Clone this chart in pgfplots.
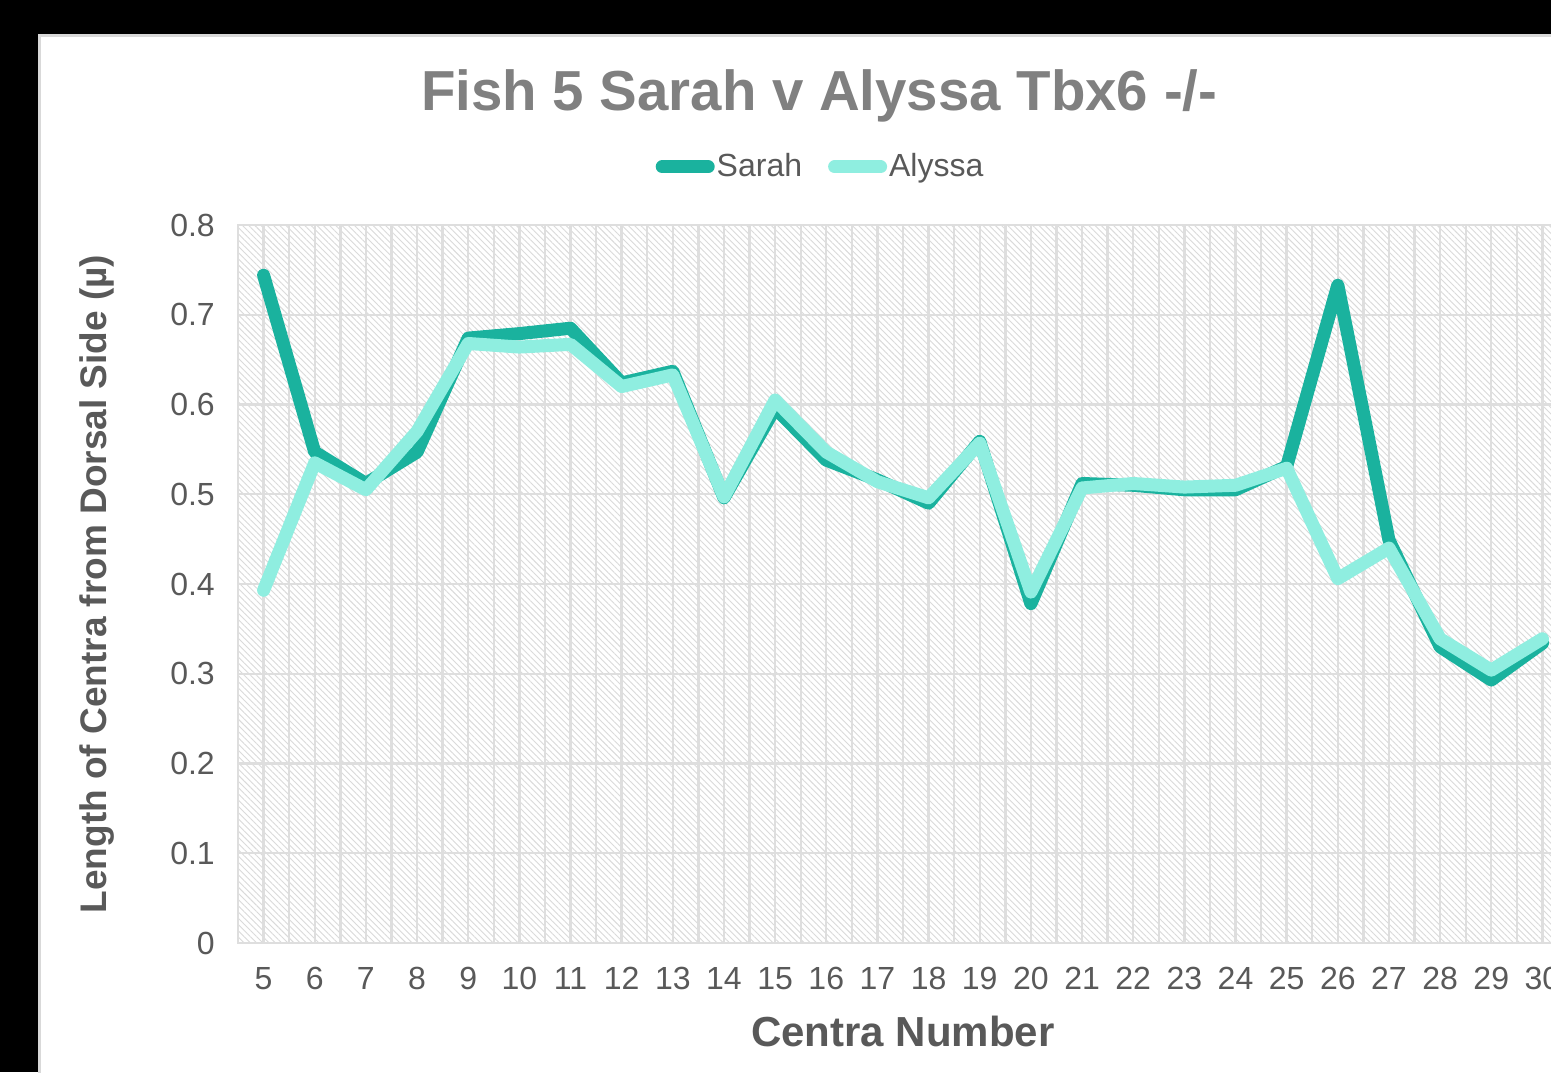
\documentclass[border=0pt]{standalone}
\usepackage{fontspec}
\setmainfont{Liberation Sans}
\usepackage{pgfplots}
\usepackage{pgfplotstable}
\pgfplotsset{compat=1.18}
\usetikzlibrary{patterns.meta}

\definecolor{sarah}{RGB}{26,178,158}
\definecolor{alyssa}{RGB}{143,238,224}
\definecolor{txtgray}{RGB}{89,89,89}
\definecolor{titlegray}{RGB}{128,128,128}
\definecolor{gridgray}{RGB}{222,222,222}
\definecolor{hatchgray}{RGB}{218,218,218}
\definecolor{panelgray}{RGB}{217,217,217}

% centra number, Sarah, Alyssa
\pgfplotstableread{
n  sarah  alyssa
5  0.744  0.393
6  0.547  0.535
7  0.512  0.505
8  0.547  0.570
9  0.674  0.668
10 0.679  0.664
11 0.685  0.667
12 0.624  0.620
13 0.637  0.633
14 0.496  0.497
15 0.596  0.605
16 0.538  0.547
17 0.516  0.514
18 0.490  0.496
19 0.559  0.557
20 0.378  0.391
21 0.512  0.507
22 0.510  0.512
23 0.505  0.508
24 0.505  0.510
25 0.531  0.529
26 0.733  0.406
27 0.449  0.440
28 0.330  0.339
29 0.293  0.304
30 0.334  0.339
}\fishdata

\begin{document}
\begin{tikzpicture}[x=0.5pt,y=0.5pt]
\useasboundingbox (0,0) rectangle (1551,1072);
\clip (0,0) rectangle (1551,1072);
\fill[black] (0,0) rectangle (1551,1072);
\filldraw[fill=white, draw=panelgray, line width=1.5pt] (39,-20) rectangle (1600,1036);
\begin{axis}[
  at={(119pt,64.5pt)}, anchor=south west,
  scale only axis, width=665pt, height=359pt,
  xmin=4.5, xmax=30.5, ymin=0, ymax=0.8,
  xtick={5,...,30},
  minor x tick num=1,
  ytick={0,0.1,0.2,0.3,0.4,0.5,0.6,0.7,0.8},
  grid=both,
  major grid style={draw=gridgray, line width=1.2pt},
  minor grid style={draw=gridgray, line width=1.2pt},
  major tick length=0pt, minor tick length=0pt,
  axis line style={draw=gridgray, line width=1.2pt},
  axis background/.style={pattern={Lines[angle=-45,distance=2.2pt,line width=0.45pt]}, pattern color=hatchgray},
  /pgf/number format/assume math mode=true,
  ticklabel style={font=\fontsize{16}{19}\selectfont, text=txtgray},
  yticklabel style={/pgf/number format/fixed, /pgf/number format/precision=1, xshift=-8.1pt},
  xticklabel style={yshift=-8.6pt},
  title={Fish 5 Sarah v Alyssa Tbx6 -/-},
  title style={at={(axis description cs:0.437,1.163)}, anchor=center,
    font=\fontsize{28.2}{33}\selectfont\bfseries, text=titlegray},
  xlabel={Centra Number},
  xlabel style={at={(axis description cs:0.5,-0.1226)}, anchor=center,
    font=\fontsize{21}{25}\selectfont\bfseries, text=txtgray},
  ylabel={Length of Centra from Dorsal Side (µ)},
  ylabel style={at={(axis description cs:-0.106,0.5)}, anchor=center, rotate=0,
    font=\fontsize{18.5}{22}\selectfont\bfseries, text=txtgray},
  legend columns=2,
  legend style={at={(axis description cs:0.438,1.081)}, anchor=center, draw=none, fill=none,
    font=\fontsize{16}{19}\selectfont, text=txtgray,
    /tikz/every even column/.append style={column sep=12pt},
    nodes={inner sep=1pt}},
  legend image code/.code={\draw[#1, line cap=round] (0pt,0pt) -- (23pt,0pt);},
]
\addplot[sarah, line width=6.5pt, line join=round, line cap=round] table[x=n, y=sarah] {\fishdata};
\addlegendentry{Sarah}
\addplot[alyssa, line width=6.5pt, line join=round, line cap=round] table[x=n, y=alyssa] {\fishdata};
\addlegendentry{Alyssa}
\end{axis}
\end{tikzpicture}
\end{document}
